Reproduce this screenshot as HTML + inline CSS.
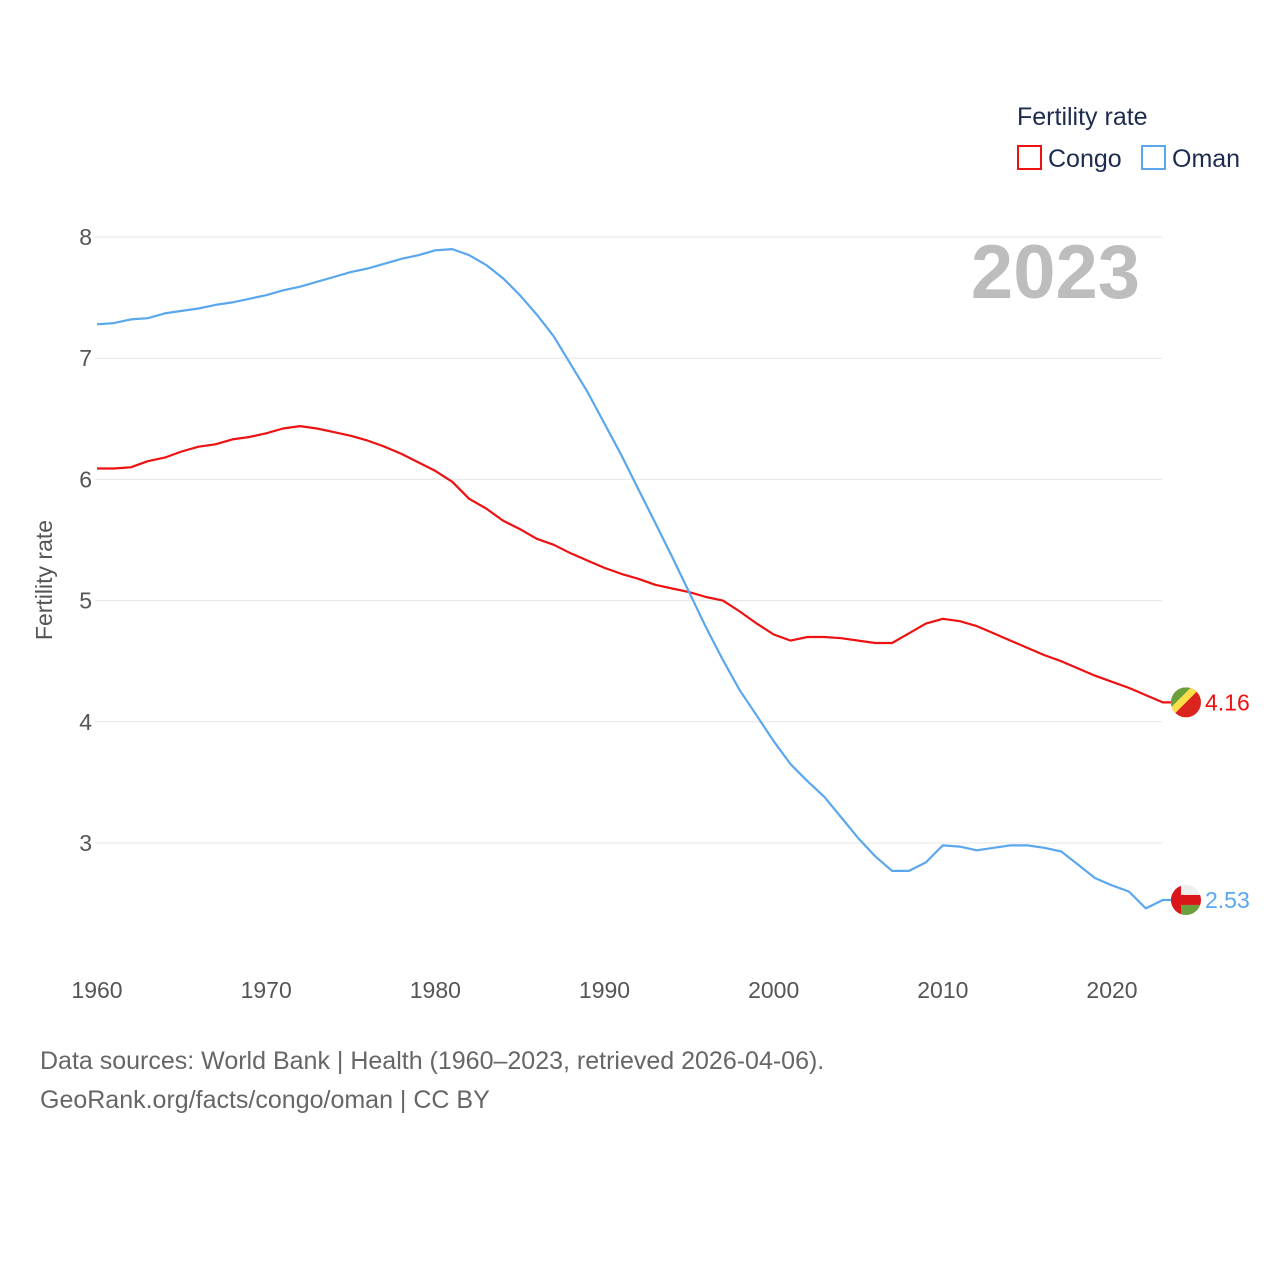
<!DOCTYPE html>
<html><head><meta charset="utf-8">
<style>
body{margin:0;background:#fff;font-family:"Liberation Sans",sans-serif;}
svg text{font-family:"Liberation Sans",sans-serif;}
</style></head>
<body>
<svg width="1280" height="1280" viewBox="0 0 1280 1280">
<g id="grid"></g>
<g id="yticks"></g>
<g id="xticks"></g>
<text x="52" y="580" transform="rotate(-90 52 580)" text-anchor="middle" font-size="23" fill="#555">Fertility rate</text>
<text x="1140" y="298" text-anchor="end" font-size="76" font-weight="bold" fill="#bdbdbd">2023</text>
<text x="1017" y="125" font-size="25" fill="#1d2b4f">Fertility rate</text>
<g><rect x="1018" y="146" width="23" height="23" fill="none" stroke="#ee1111" stroke-width="2"/><text x="1048" y="167" font-size="25" fill="#1d2b4f">Congo</text></g>
<g><rect x="1142" y="146" width="23" height="23" fill="none" stroke="#5aa7ee" stroke-width="2"/><text x="1172" y="167" font-size="25" fill="#1d2b4f">Oman</text></g>
<g id="lines"></g>
<g id="ends"></g>
<text x="40" y="1069" font-size="25" fill="#666">Data sources: World Bank | Health (1960–2023, retrieved 2026-04-06).</text>
<text x="40" y="1108" font-size="25" fill="#666">GeoRank.org/facts/congo/oman | CC BY</text>
</svg>
<script>
const years=[];for(let y=1960;y<=2023;y++)years.push(y);
const congo=[6.09,6.09,6.10,6.15,6.18,6.23,6.27,6.29,6.33,6.35,6.38,6.42,6.44,6.42,6.39,6.36,6.32,6.27,6.21,6.14,6.07,5.98,5.84,5.76,5.66,5.59,5.51,5.46,5.39,5.33,5.27,5.22,5.18,5.13,5.10,5.07,5.03,5.00,4.91,4.81,4.72,4.67,4.70,4.70,4.69,4.67,4.65,4.65,4.73,4.81,4.85,4.83,4.79,4.73,4.67,4.61,4.55,4.50,4.44,4.38,4.33,4.28,4.22,4.16];
const oman=[7.28,7.29,7.32,7.33,7.37,7.39,7.41,7.44,7.46,7.49,7.52,7.56,7.59,7.63,7.67,7.71,7.74,7.78,7.82,7.85,7.89,7.90,7.85,7.77,7.66,7.52,7.36,7.18,6.95,6.72,6.46,6.20,5.92,5.64,5.36,5.07,4.78,4.51,4.26,4.05,3.84,3.65,3.51,3.38,3.21,3.04,2.89,2.77,2.77,2.84,2.98,2.97,2.94,2.96,2.98,2.98,2.96,2.93,2.82,2.71,2.65,2.60,2.46,2.53];
const yTicks=[3,4,5,6,7,8];
const xTicks=[1960,1970,1980,1990,2000,2010,2020];
const NS='http://www.w3.org/2000/svg';
const X=y=>97+(y-1960)*(1112-97)/60;
const Y=v=>843-(v-3)*121.2;
function mk(t,a,p){const e=document.createElementNS(NS,t);for(const k in a)e.setAttribute(k,a[k]);p.appendChild(e);return e;}
const grid=document.getElementById('grid'),yt=document.getElementById('yticks'),xt=document.getElementById('xticks');
yTicks.forEach(v=>{
 const l=mk('line',{x1:95,x2:1162,y1:Y(v),y2:Y(v),stroke:'#e6e6e6','stroke-width':1},grid);
 
 
 const t=mk('text',{x:92,y:Y(v)+8,'text-anchor':'end','font-size':23,fill:'#555'},yt);
 
 
 t.textContent=v;
});
xTicks.forEach(v=>{
 const t=mk('text',{x:X(v),y:998,'text-anchor':'middle','font-size':23,fill:'#555'},xt);
 
 
 t.textContent=v;
});
const lines=document.getElementById('lines');
function series(d,c,name){
 let p=d.map((v,i)=>(i?'L':'M')+X(years[i]).toFixed(1)+','+Y(v).toFixed(1)).join(' ');
 p+=' L'+(X(2023)+10)+','+Y(d[d.length-1]).toFixed(1);
 const e=mk('path',{d:p,fill:'none',stroke:c,'stroke-width':2.2,'stroke-linejoin':'round'},lines);
 
 
}
series(congo,'#ee1111','congo-line');
series(oman,'#5aa7ee','oman-line');
const ends=document.getElementById('ends');
function flag(v,c,name,kind){
 const cy=Y(v),cx=1186;
 const g=mk('g',{},ends);
 
 
 mk('clipPath',{id:'cp'+kind},g).appendChild(document.createElementNS(NS,'circle'));
 const cc=g.querySelector('circle');cc.setAttribute('cx',cx);cc.setAttribute('cy',cy);cc.setAttribute('r',15);
 const f=mk('g',{'clip-path':'url(#cp'+kind+')'},g);
 if(kind==='c'){
  mk('rect',{x:cx-15,y:cy-15,width:30,height:30,fill:'#dc241f'},f);
  mk('polygon',{points:`${cx-15},${cy-15} ${cx+15},${cy-15} ${cx-15},${cy+15}`,fill:'#fbde4a'},f);
  mk('polygon',{points:`${cx-15},${cy-15} ${cx+5},${cy-15} ${cx-15},${cy+5}`,fill:'#6a9f3b'},f);
 }else{
  mk('rect',{x:cx-15,y:cy-15,width:30,height:30,fill:'#eee'},f);
  mk('rect',{x:cx-15,y:cy-5,width:30,height:10,fill:'#db161b'},f);
  mk('rect',{x:cx-15,y:cy+5,width:30,height:10,fill:'#6a9f3b'},f);
  mk('rect',{x:cx-15,y:cy-15,width:10,height:30,fill:'#db161b'},f);
 }
 const t=mk('text',{x:1205,y:cy+8,'font-size':23,fill:c},g);
 t.textContent=v.toFixed(2);
}
flag(congo[congo.length-1],'#ee1111','congo-end-label','c');
flag(oman[oman.length-1],'#5aa7ee','oman-end-label','o');
</script>
</body></html>
